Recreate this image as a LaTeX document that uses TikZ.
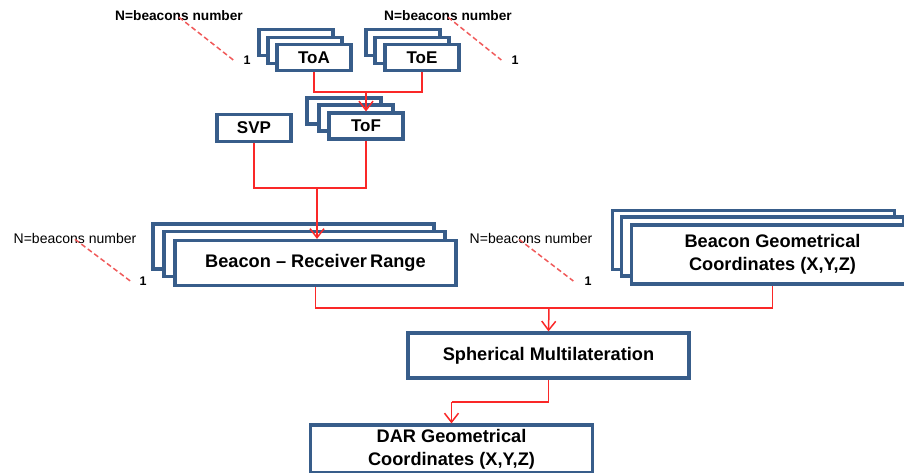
\documentclass[tikz,border=0pt]{standalone}
\usepackage{fontspec}
\setmainfont{Liberation Sans}
\usetikzlibrary{arrows.meta}
\definecolor{boxblue}{RGB}{56,93,138}
\definecolor{flowred}{RGB}{250,40,40}
\definecolor{dashred}{RGB}{240,90,90}
\tikzset{
  card/.style={draw=boxblue, fill=white, line width=3.2pt, inner sep=0pt, align=center,
    font=\bfseries\fontsize{18.2}{23}\selectfont},
  smallcard/.style={card, minimum width=74pt, minimum height=26pt,
    font=\bfseries\fontsize{17}{20}\selectfont},
  widecard/.style={card, minimum width=281pt, minimum height=45pt},
  tallcard/.style={card, minimum width=282pt, minimum height=59pt},
  flow/.style={draw=flowred, line width=1.5pt},
  flowarrow/.style={flow, -{Straight Barb[length=9pt,width=14pt,line width=1.5pt]}},
  dashline/.style={draw=dashred, line width=1.5pt, dash pattern=on 5pt off 3pt},
  countlabel/.style={inner sep=0pt, font=\fontsize{14}{16}\selectfont},
  countlabelbold/.style={inner sep=0pt, font=\bfseries\fontsize{13.7}{16}\selectfont},
  countone/.style={inner sep=0pt, font=\bfseries\fontsize{12.5}{14}\selectfont}
}
\begin{document}
\begin{tikzpicture}[x=1pt,y=-1pt]
\useasboundingbox (0,0) rectangle (904,472);
\clip (0,0) rectangle (904,472);

% ToA stack
\node[smallcard] (toa3) at (296,42.5) {};
\node[smallcard] (toa2) at (305,50.5) {};
\node[smallcard] (toa)  at (314,57.5) {ToA};
% ToE stack
\node[smallcard] (toe3) at (403,42.5) {};
\node[smallcard] (toe2) at (412,50.5) {};
\node[smallcard] (toe)  at (422,57.5) {ToE};
% ToF stack
\node[smallcard] (tof3) at (344,111) {};
\node[smallcard] (tof2) at (356,118) {};
\node[smallcard] (tof)  at (366,126) {ToF};
% SVP
\node[smallcard, minimum height=27pt] (svp) at (254,128) {SVP};

% Beacon - receiver range stack
\node[widecard] (rng3) at (293.5,246.5) {};
\node[widecard] (rng2) at (304.5,254) {};
\node[widecard] (rng)  at (315.5,263) {Beacon -- Receiver\,Range};
% Beacon geometrical coordinates stack
\node[tallcard] (geo3) at (753.5,240) {};
\node[tallcard] (geo2) at (762.5,246.5) {};
\node[tallcard] (geo)  at (772.5,254.5) {Beacon Geometrical\\Coordinates (X,Y,Z)};

% Spherical multilateration and result
\node[widecard] (sph) at (548.5,355.5) {Spherical Multilateration};
\node[card, minimum width=282pt, minimum height=48pt] (dar) at (451.5,449)
  {DAR Geometrical\\Coordinates (X,Y,Z)};

% Count labels
\node[countlabelbold] (lab1) at (179,16) {N=beacons number};
\node[countone] (one1) at (247,60) {1};
\node[countlabelbold] (lab2) at (448,16) {N=beacons number};
\node[countone] (one2) at (515,60) {1};
\node[countlabel] (lab3) at (75,238) {N=beacons number};
\node[countone] (one3) at (143,281) {1};
\node[countlabel] (lab4) at (531,238) {N=beacons number};
\node[countone] (one4) at (588,281) {1};

\draw[dashline] ([yshift=4pt]lab1.south) -- ([xshift=-10pt]one1.west);
\draw[dashline] ([yshift=4pt]lab2.south) -- ([xshift=-10pt]one2.west);
\draw[dashline] ([yshift=4pt]lab3.south) -- ([xshift=-9pt]one3.west);
\draw[dashline] ([xshift=-12pt,yshift=4pt]lab4.south) -- ([xshift=-11pt]one4.west);

% Flow connectors
\coordinate (j1) at (366,92);
\draw[flow] (toa.south) |- (j1) -| (toe.south);
\draw[flowarrow] (j1) -- (tof.north);

\coordinate (j2) at (317,188);
\draw[flow] (svp.south) |- (j2) -| (tof.south);
\draw[flowarrow] (j2) -- (j2 |- rng.north);

\coordinate (j3) at (549,308);
\draw[flow] (rng.south) |- (j3) -| (geo.south);
\draw[flowarrow] (j3) -- (sph.north);

\coordinate (j4) at (dar.north |- 0,402);
\draw[flow] (sph.south) |- (j4);
\draw[flowarrow] (j4) -- (dar.north);
\end{tikzpicture}
\end{document}
